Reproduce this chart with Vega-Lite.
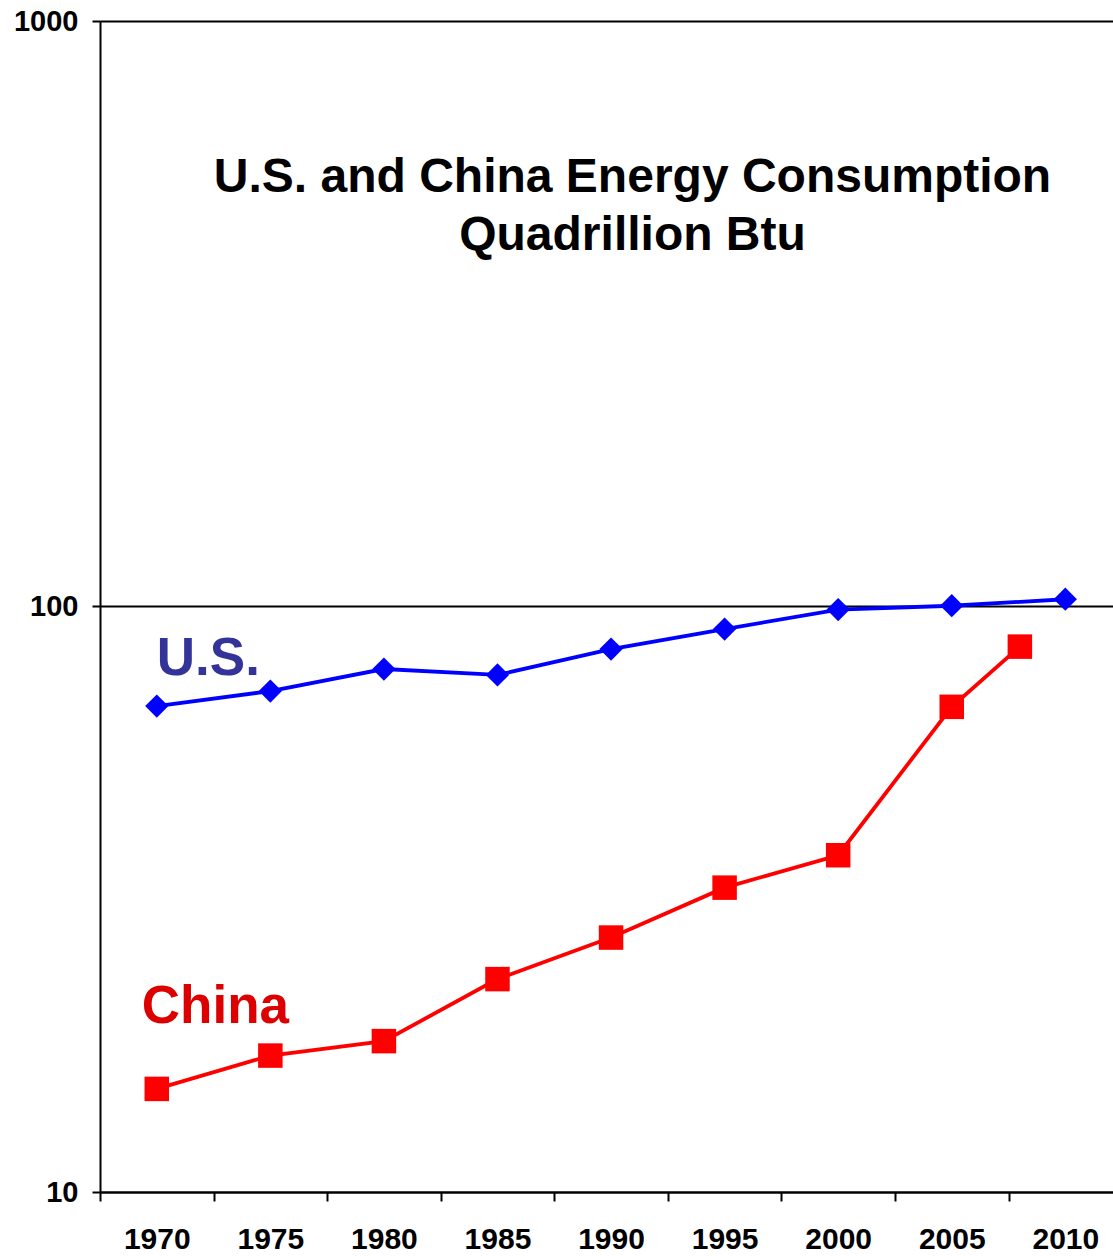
{
  "$schema": "https://vega.github.io/schema/vega-lite/v6.json",
  "width": 1013,
  "height": 1171,
  "autosize": {"type": "none"},
  "padding": {"left": 100, "top": 21, "right": 0, "bottom": 64},
  "background": "white",
  "config": {
    "font": "Liberation Sans",
    "view": {"stroke": null}
  },
  "title": {
    "text": ["U.S. and China Energy Consumption", "Quadrillion Btu"],
    "anchor": "middle",
    "frame": "group",
    "orient": "top",
    "offset": 0,
    "dx": 26,
    "dy": 291,
    "baseline": "alphabetic",
    "fontSize": 48,
    "fontWeight": "bold",
    "lineHeight": 58,
    "color": "#000000",
    "font": "Liberation Sans"
  },
  "data": {
    "values": [
      {"series": "U.S.", "year": 1970, "value": 67.6},
      {"series": "U.S.", "year": 1975, "value": 71.7},
      {"series": "U.S.", "year": 1980, "value": 78.2},
      {"series": "U.S.", "year": 1985, "value": 76.4},
      {"series": "U.S.", "year": 1990, "value": 84.6},
      {"series": "U.S.", "year": 1995, "value": 91.5},
      {"series": "U.S.", "year": 2000, "value": 98.8},
      {"series": "U.S.", "year": 2005, "value": 100.3},
      {"series": "U.S.", "year": 2010, "value": 102.9},
      {"series": "China", "year": 1970, "value": 15.0},
      {"series": "China", "year": 1975, "value": 17.1},
      {"series": "China", "year": 1980, "value": 18.1},
      {"series": "China", "year": 1985, "value": 23.1},
      {"series": "China", "year": 1990, "value": 27.2},
      {"series": "China", "year": 1995, "value": 33.1},
      {"series": "China", "year": 2000, "value": 37.6},
      {"series": "China", "year": 2005, "value": 67.4},
      {"series": "China", "year": 2008, "value": 85.4}
    ]
  },
  "encoding": {
    "x": {
      "field": "year",
      "type": "quantitative",
      "scale": {"domain": [1967.5, 2012.1], "nice": false, "zero": false},
      "axis": {
        "title": null,
        "values": [1967.5, 1972.5, 1977.5, 1982.5, 1987.5, 1992.5, 1997.5, 2002.5, 2007.5],
        "labelExpr": "toString(datum.value + 2.5)",
        "labelOffset": 56.8,
        "labelFlush": false,
        "labelOverlap": false,
        "labelFontSize": 30,
        "labelFontWeight": "bold",
        "labelColor": "#000000",
        "labelPadding": 23,
        "labelBaseline": "top",
        "tickSize": 9,
        "tickWidth": 2,
        "tickColor": "#000000",
        "domainColor": "#000000",
        "domainWidth": 2,
        "grid": false
      }
    },
    "y": {
      "field": "value",
      "type": "quantitative",
      "scale": {"type": "log", "domain": [10, 1000], "nice": false},
      "axis": {
        "title": null,
        "values": [10, 100, 1000],
        "format": "d",
        "labelFlush": false,
        "labelOverlap": false,
        "labelFontSize": 29,
        "labelFontWeight": "bold",
        "labelColor": "#000000",
        "labelPadding": 14,
        "labelBaseline": "middle",
        "tickSize": 8,
        "tickWidth": 2,
        "tickColor": "#000000",
        "domainColor": "#000000",
        "domainWidth": 2,
        "grid": true,
        "gridColor": "#000000",
        "gridWidth": 1.8,
        "gridOpacity": 1
      }
    }
  },
  "layer": [
    {
      "mark": {"type": "line", "strokeWidth": 3.8},
      "encoding": {
        "color": {
          "field": "series",
          "type": "nominal",
          "scale": {"domain": ["U.S.", "China"], "range": ["#0000FF", "#FF0000"]},
          "legend": null
        }
      }
    },
    {
      "transform": [{"filter": "datum.series === 'U.S.'"}],
      "mark": {"type": "point", "shape": "diamond", "filled": true, "size": 540, "color": "#0000FF", "opacity": 1}
    },
    {
      "transform": [{"filter": "datum.series === 'China'"}],
      "mark": {"type": "point", "shape": "square", "filled": true, "size": 600, "color": "#FF0000", "opacity": 1}
    },
    {
      "transform": [{"filter": "datum.series === 'U.S.' && datum.year === 1970"}],
      "mark": {"type": "text", "align": "left", "baseline": "alphabetic", "dx": 0, "dy": -31, "fontSize": 53, "fontWeight": "bold", "color": "#333399"},
      "encoding": {"text": {"field": "series"}}
    },
    {
      "transform": [{"filter": "datum.series === 'China' && datum.year === 1970"}],
      "mark": {"type": "text", "align": "left", "baseline": "alphabetic", "dx": -15, "dy": -66, "fontSize": 53, "fontWeight": "bold", "color": "#DD0000"},
      "encoding": {"text": {"field": "series"}}
    }
  ]
}
